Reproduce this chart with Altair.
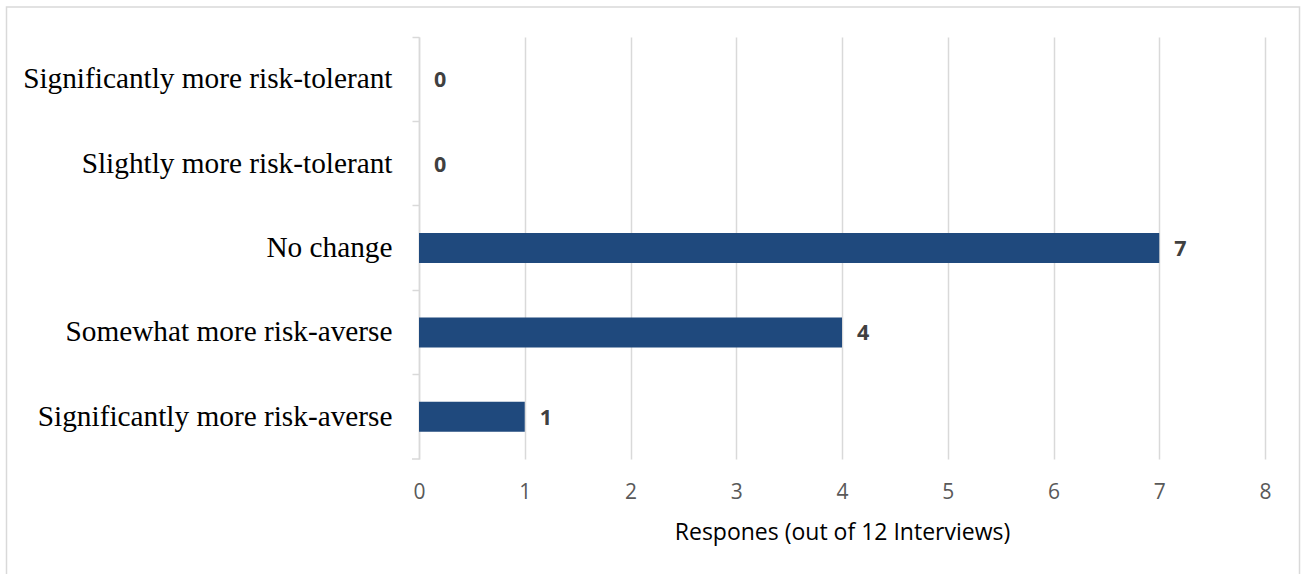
import altair as alt
import pandas as pd

categories = [
    "Significantly more risk-tolerant",
    "Slightly more risk-tolerant",
    "No change",
    "Somewhat more risk-averse",
    "Significantly more risk-averse",
]
responses = [0, 0, 7, 4, 1]
x_ticks = [0, 1, 2, 3, 4, 5, 6, 7, 8]
x_title = "Respones (out of 12 Interviews)"

df = pd.DataFrame({"category": categories, "responses": responses})
one = pd.DataFrame({"t": [0]})

W, H = 846, 422
GRID = "#D9D9D9"
BAR = "#1F497D"

y_enc = alt.Y(
    "category:N",
    sort=categories,
    scale=alt.Scale(paddingInner=0, paddingOuter=0),
    axis=alt.Axis(
        title=None,
        labelFont="Liberation Serif",
        labelFontSize=29.3,
        labelColor="#000000",
        labelPadding=20,
        labelLimit=600,
        tickSize=7,
        tickColor=GRID,
        tickWidth=1.5,
        domainColor=GRID,
        domainWidth=1.5,
        bandPosition=0,
        grid=False,
    ),
)
x_enc = alt.X(
    "responses:Q",
    scale=alt.Scale(domain=[0, 8], nice=False, zero=True),
    axis=alt.Axis(
        values=x_ticks,
        title=x_title,
        grid=True,
        gridColor=GRID,
        gridWidth=1.5,
        domain=False,
        ticks=False,
        tickSize=0,
        labelPadding=22,
        labelFlush=False,
        labelFont="Open Sans",
        labelFontSize=21,
        labelColor="#595959",
        titleFont="Open Sans",
        titleFontSize=23,
        titleFontWeight="normal",
        titleColor="#000000",
        titleY=80,
        titleBaseline="alphabetic",
    ),
)

base = alt.Chart(df).encode(x=x_enc, y=y_enc)
bars = base.mark_bar(size=30, color=BAR)
labels = base.mark_text(
    align="left", baseline="middle", dx=15, dy=2,
    font="Open Sans", fontSize=21.5, fontWeight="bold", color="#404040",
).encode(text="responses:Q")

bottom_tick = alt.Chart(one).mark_rule(color=GRID, strokeWidth=1.5).encode(
    x=alt.value(-7), x2=alt.value(0), y=alt.value(H)
)
border = alt.Chart(one).mark_rect(fillOpacity=0, stroke=GRID, strokeWidth=1.5).encode(
    x=alt.value(-412.5), x2=alt.value(880.5), y=alt.value(-30), y2=alt.value(620)
)

chart = (
    alt.layer(border, bars, labels, bottom_tick)
    .properties(
        width=W,
        height=H,
        autosize=alt.AutoSizeParams(type="none"),
        padding={"left": 419, "top": 37, "right": 36, "bottom": 115},
        background="white",
    )
    .configure_view(strokeWidth=0)
)

chart.save("out.html", embed_options={"renderer": "svg", "actions": False})
